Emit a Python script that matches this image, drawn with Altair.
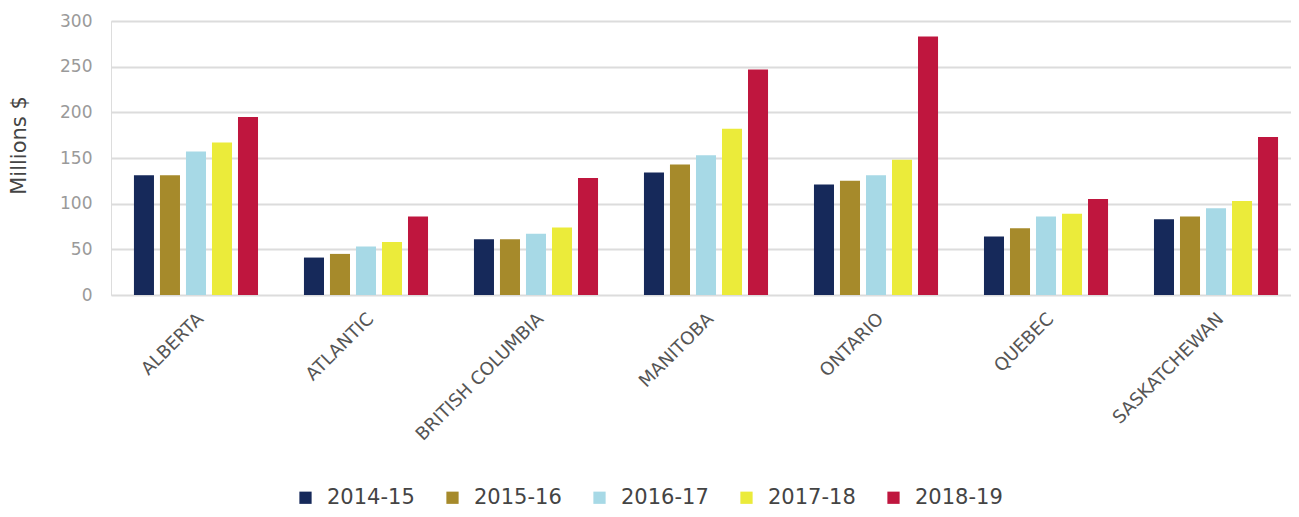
import altair as alt
import pandas as pd

regions = ["ALBERTA", "ATLANTIC", "BRITISH COLUMBIA", "MANITOBA", "ONTARIO", "QUEBEC", "SASKATCHEWAN"]
years = ["2014-15", "2015-16", "2016-17", "2017-18", "2018-19"]
v_2014_15 = [131, 41, 61, 134, 121, 64, 83]
v_2015_16 = [131, 45, 61, 143, 125, 73, 86]
v_2016_17 = [157, 53, 67, 153, 131, 86, 95]
v_2017_18 = [167, 58, 74, 182, 148, 89, 103]
v_2018_19 = [195, 86, 128, 247, 283, 105, 173]
colors = ["#16295a", "#a68a2b", "#a7d9e6", "#ebeb3a", "#bf163e"]
y_ticks = [0, 50, 100, 150, 200, 250, 300]

series = [v_2014_15, v_2015_16, v_2016_17, v_2017_18, v_2018_19]
rows = []
for yr, vals in zip(years, series):
    for r, v in zip(regions, vals):
        rows.append({"Region": r, "Year": yr, "Value": v})
df = pd.DataFrame(rows)

FONT = "DejaVu Sans"

chart = alt.Chart(df).mark_bar().encode(
    x=alt.X("Region:N", sort=regions,
            scale=alt.Scale(paddingInner=0.235, paddingOuter=0.088, align=0.667),
            axis=alt.Axis(title=None, labelAngle=-45, labelAlign="right", labelBaseline="middle",
                          labelPadding=21, labelOffset=5, labelFontSize=18, labelColor="#555555",
                          labelFont=FONT, ticks=False, domain=False)),
    xOffset=alt.XOffset("Year:N", sort=years,
                        scale=alt.Scale(paddingInner=0.23, paddingOuter=0.115)),
    y=alt.Y("Value:Q", scale=alt.Scale(domain=[0, 300], nice=False),
            axis=alt.Axis(title="Millions $", values=y_ticks, labelFontSize=17, labelColor="#9a9a9a",
                          labelFont=FONT, labelPadding=19, titleFont=FONT, titleFontSize=21,
                          titleFontWeight="normal", titleColor="#444444", titlePadding=30,
                          titleY=124,
                          ticks=False, domain=False, gridColor="#dcdcdc", gridWidth=2)),
    color=alt.Color("Year:N", sort=years, scale=alt.Scale(domain=years, range=colors),
                    legend=alt.Legend(title=None, orient="none", direction="horizontal",
                                      legendX=184, legendY=466, symbolType="square",
                                      symbolSize=150, symbolStrokeWidth=0, labelFontSize=21,
                                      labelFont=FONT, labelColor="#444444", labelOffset=11,
                                      columnPadding=27, padding=0)),
).properties(
    width=1180, height=274,
    padding={"left": 103, "top": 13, "right": 0, "bottom": 214},
    autosize=alt.AutoSizeParams(type="none"),
).configure_view(stroke=None).configure(background="white")

chart.save("out.html", embed_options={"renderer": "svg", "actions": False})
